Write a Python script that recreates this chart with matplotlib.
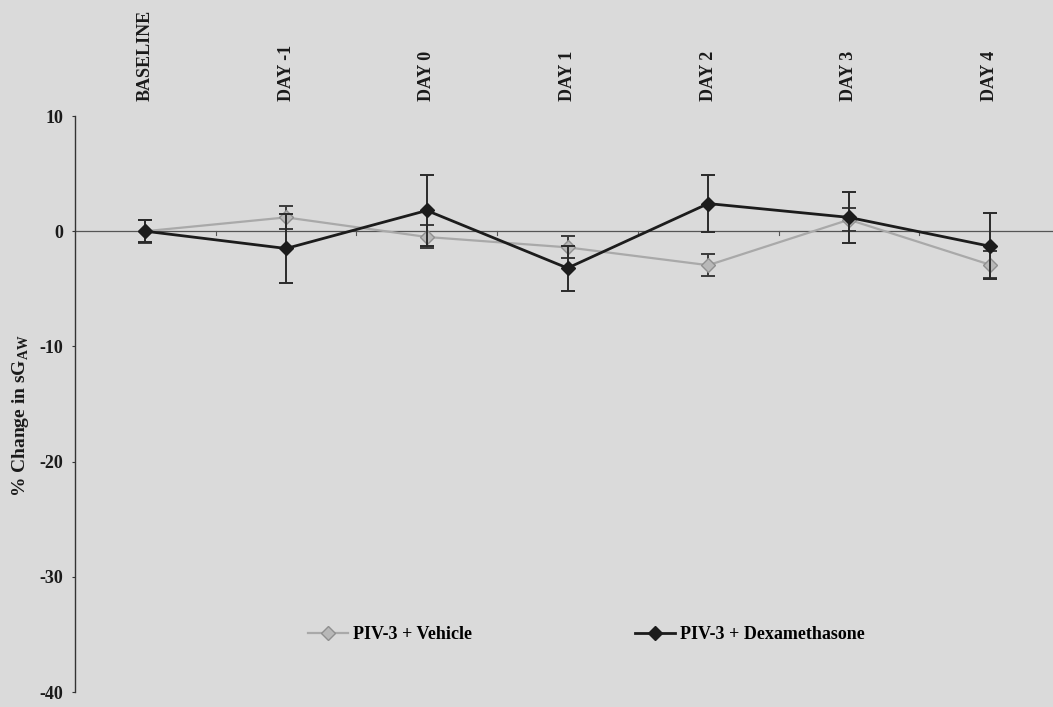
import matplotlib

matplotlib.use("Agg")

import matplotlib.pyplot as plt
from matplotlib.lines import Line2D
from matplotlib.transforms import blended_transform_factory

DAYS = ["BASELINE", "DAY -1", "DAY 0", "DAY 1", "DAY 2", "DAY 3", "DAY 4"]
VEHICLE_MEAN = [0.0, 1.2, -0.5, -1.4, -2.95, 1.0, -2.9]
VEHICLE_ERR = [1.0, 1.0, 1.0, 0.95, 0.95, 1.0, 1.15]
DEX_MEAN = [0.0, -1.5, 1.8, -3.2, 2.4, 1.2, -1.3]
DEX_ERR = [0.95, 3.0, 3.1, 1.95, 2.45, 2.2, 2.85]
Y_TICKS = [10, 0, -10, -20, -30, -40]
SERIES_LABELS = ["PIV-3 + Vehicle", "PIV-3 + Dexamethasone"]

BG_COLOR = "#dadada"
TEXT_COLOR = "#1a1a1a"
VEHICLE_COLOR = "#a9a9a9"
VEHICLE_FILL = "#b8b8b8"
DEX_COLOR = "#1c1c1c"
FONT = ["Liberation Serif", "DejaVu Serif"]

plt.rcParams["font.family"] = FONT
plt.rcParams["font.weight"] = "bold"
plt.rcParams["mathtext.fontset"] = "custom"
plt.rcParams["mathtext.rm"] = "Liberation Serif:bold"

fig = plt.figure(figsize=(10.53, 7.07), dpi=100, facecolor=BG_COLOR)
ax = fig.add_axes([0.0712, 0.0212, 0.9288, 0.8147])
ax.set_facecolor(BG_COLOR)

x = list(range(len(DAYS)))

ax.axhline(0, color="#555555", linewidth=0.9, zorder=1)

# vehicle first so the dexamethasone line sits on top
ax.errorbar(x, VEHICLE_MEAN, yerr=VEHICLE_ERR, fmt="none",
            ecolor="#3a3a3a", elinewidth=1.4, capsize=5, capthick=1.4, zorder=2)
ax.plot(x, VEHICLE_MEAN, color=VEHICLE_COLOR, linewidth=1.6,
        marker="D", markersize=7.5, markerfacecolor=VEHICLE_FILL,
        markeredgecolor="#8f8f8f", zorder=3)
ax.errorbar(x, DEX_MEAN, yerr=DEX_ERR, fmt="none",
            ecolor="#2a2a2a", elinewidth=1.4, capsize=5, capthick=1.4, zorder=4)
ax.plot(x, DEX_MEAN, color=DEX_COLOR, linewidth=2.0,
        marker="D", markersize=7.5, markerfacecolor=DEX_COLOR,
        markeredgecolor=DEX_COLOR, zorder=5)

ax.set_xlim(-0.5, 6.45)
ax.set_ylim(-40, 10)
ax.set_yticks(Y_TICKS)
ax.set_yticklabels([str(t) for t in Y_TICKS], fontsize=13, fontweight="bold")

ax.spines["top"].set_visible(False)
ax.spines["right"].set_visible(False)
ax.spines["bottom"].set_visible(False)
ax.spines["left"].set_color("#333333")
ax.spines["left"].set_linewidth(1.0)
ax.tick_params(axis="y", direction="out", length=2.5, width=0.8, colors="#333333",
               labelcolor=TEXT_COLOR, pad=6)

# small ticks on the zero line between categories
ax.set_xticks([i + 0.5 for i in range(6)])
ax.set_xticklabels([])
ax.tick_params(axis="x", length=0)
for pos in ax.get_xticks():
    ax.plot([pos, pos], [0, -0.35], color="#555555", linewidth=0.8, zorder=1)

trans = blended_transform_factory(ax.transData, ax.transAxes)
for i, day in enumerate(DAYS):
    ax.text(i, 1.026, day, transform=trans, rotation=90, ha="center", va="bottom",
            fontsize=13, fontweight="bold", color=TEXT_COLOR, clip_on=False)

ax.set_ylabel(r"% Change in sG$_{\mathrm{AW}}$", fontsize=14, fontweight="bold",
              color=TEXT_COLOR, labelpad=6)
ax.yaxis.set_label_coords(-0.045, 0.48)

handles = [
    Line2D([], [], color=VEHICLE_COLOR, linewidth=1.6, marker="D", markersize=7.5,
           markerfacecolor=VEHICLE_FILL, markeredgecolor="#8f8f8f"),
    Line2D([], [], color=DEX_COLOR, linewidth=2.0, marker="D", markersize=7.5,
           markerfacecolor=DEX_COLOR, markeredgecolor=DEX_COLOR),
]
ax.legend(
    handles, SERIES_LABELS,
    loc="center left", bbox_to_anchor=(0.222, 0.1), ncol=2, frameon=False,
    handlelength=2.2, columnspacing=9.0, handletextpad=0.3,
    prop={"family": FONT, "weight": "bold", "size": 13},
)

fig.savefig("out.png", dpi=100, facecolor=BG_COLOR)
